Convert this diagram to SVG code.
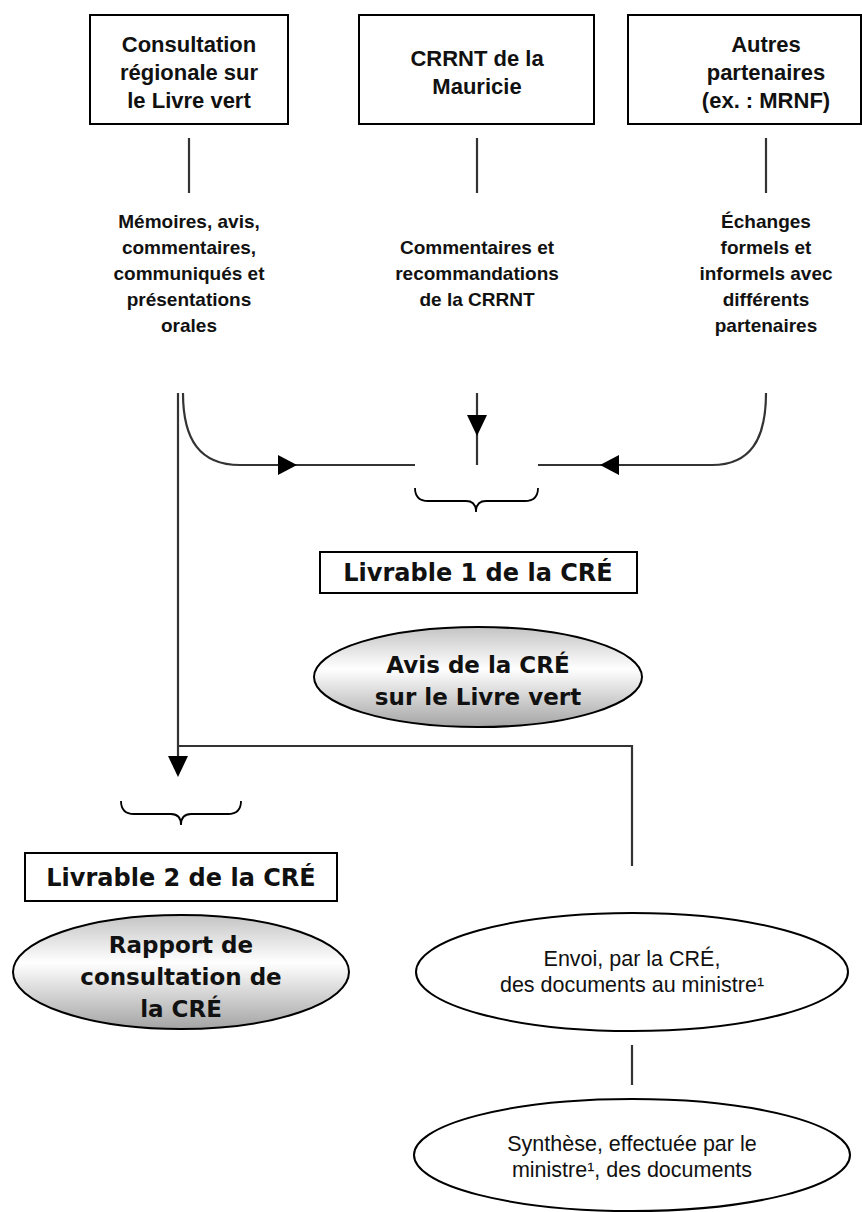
<svg xmlns="http://www.w3.org/2000/svg" width="862" height="1212" viewBox="0 0 862 1212">
<defs>
<style>
.box{fill:#fff;stroke:#000;stroke-width:2}
.ell{stroke:#000;stroke-width:2}
.con{fill:none;stroke:#333;stroke-width:2.2}
.brace{fill:none;stroke:#000;stroke-width:1.8}
.t1{font-family:"Liberation Sans",Arial,sans-serif;font-weight:bold;font-size:22px;fill:#111;text-anchor:middle}
.t2{font-family:"Liberation Sans",Arial,sans-serif;font-weight:bold;font-size:19px;fill:#111;text-anchor:middle}
.t3{font-family:"DejaVu Sans",Verdana,sans-serif;font-weight:bold;font-size:23px;fill:#111;text-anchor:middle}
.t5{font-family:"DejaVu Sans",Verdana,sans-serif;font-weight:bold;font-size:24px;fill:#111;text-anchor:middle}
.t4{font-family:"Liberation Sans",Arial,sans-serif;font-size:21.5px;fill:#111;text-anchor:middle}
</style>
<linearGradient id="gr" x1="0" y1="0" x2="0" y2="1">
<stop offset="0" stop-color="#c4c4c4"/>
<stop offset="0.42" stop-color="#ffffff"/>
<stop offset="1" stop-color="#a4a4a4"/>
</linearGradient>
</defs>

<g id="connectors">
<line class="con" x1="189" y1="138" x2="189" y2="193"/>
<line class="con" x1="477" y1="138" x2="477" y2="193"/>
<line class="con" x1="766" y1="138" x2="766" y2="193"/>
<path class="con" d="M183,393 C183,440 200,465 240,465 L415,465"/>
<path d="M278,455 L297,465 L278,475 Z" fill="#000"/>
<path class="con" d="M766,393 C766,440 750,465 712,465 L538,465"/>
<path d="M619,455 L600,465 L619,475 Z" fill="#000"/>
<line class="con" x1="477" y1="393" x2="477" y2="465"/>
<path d="M467,415 L477,436 L487,415 Z" fill="#000"/>
<line class="con" x1="178" y1="393" x2="178" y2="760"/>
<path d="M168,756 L178,777 L188,756 Z" fill="#000"/>
<path class="con" d="M178,746 L632,746 L632,866"/>
<line class="con" x1="632" y1="1045" x2="632" y2="1085"/>
<path class="brace" d="M415,488 Q415,501 428,501 L466,501 Q476,501 476,512 Q476,501 486,501 L525,501 Q538,501 538,488"/>
<path class="brace" d="M121,801 Q121,814 134,814 L171,814 Q181,814 181,825 Q181,814 191,814 L228,814 Q241,814 241,801"/>
</g>

<g id="n-consultation">
<rect class="box" x="90" y="15" width="198" height="109"/>
<text class="t1" x="189" y="52">Consultation</text>
<text class="t1" x="189" y="80">régionale sur</text>
<text class="t1" x="189" y="108">le Livre vert</text>
</g>
<g id="n-crrnt">
<rect class="box" x="359" y="15" width="235" height="109"/>
<text class="t1" x="477" y="66">CRRNT de la</text>
<text class="t1" x="477" y="94">Mauricie</text>
</g>
<g id="n-autres">
<rect class="box" x="628" y="15" width="233" height="109"/>
<text class="t1" x="766" y="52">Autres</text>
<text class="t1" x="766" y="80">partenaires</text>
<text class="t1" x="766" y="108">(ex. : MRNF)</text>
</g>

<g id="l-memoires">
<text class="t2" x="189" y="228">Mémoires, avis,</text>
<text class="t2" x="189" y="254">commentaires,</text>
<text class="t2" x="189" y="280">communiqués et</text>
<text class="t2" x="189" y="306">présentations</text>
<text class="t2" x="189" y="332">orales</text>
</g>
<g id="l-commentaires">
<text class="t2" x="477" y="254">Commentaires et</text>
<text class="t2" x="477" y="280">recommandations</text>
<text class="t2" x="477" y="306">de la CRRNT</text>
</g>
<g id="l-echanges">
<text class="t2" x="766" y="228">Échanges</text>
<text class="t2" x="766" y="254">formels et</text>
<text class="t2" x="766" y="280">informels avec</text>
<text class="t2" x="766" y="306">différents</text>
<text class="t2" x="766" y="332">partenaires</text>
</g>

<g id="n-livrable1">
<rect class="box" x="320" y="552" width="317" height="41"/>
<text class="t5" x="478" y="581">Livrable 1 de la CRÉ</text>
</g>
<g id="n-avis">
<ellipse class="ell" cx="478" cy="677" rx="164" ry="50" fill="url(#gr)"/>
<text class="t3" x="478" y="673">Avis de la CRÉ</text>
<text class="t3" x="478" y="705">sur le Livre vert</text>
</g>

<g id="n-livrable2">
<rect class="box" x="25" y="853" width="312" height="48"/>
<text class="t5" x="181" y="886">Livrable 2 de la CRÉ</text>
</g>
<g id="n-rapport">
<ellipse class="ell" cx="181" cy="972" rx="168" ry="57" fill="url(#gr)"/>
<text class="t3" x="181" y="953">Rapport de</text>
<text class="t3" x="181" y="985">consultation de</text>
<text class="t3" x="181" y="1017">la CRÉ</text>
</g>

<g id="n-envoi">
<ellipse class="ell" cx="632" cy="972" rx="216" ry="59" fill="#fff"/>
<text class="t4" x="632" y="966">Envoi, par la CRÉ,</text>
<text class="t4" x="632" y="992">des documents au ministre¹</text>
</g>
<g id="n-synthese">
<ellipse class="ell" cx="632" cy="1155" rx="218" ry="56" fill="#fff"/>
<text class="t4" x="632" y="1151">Synthèse, effectuée par le</text>
<text class="t4" x="632" y="1177">ministre¹, des documents</text>
</g>
</svg>
